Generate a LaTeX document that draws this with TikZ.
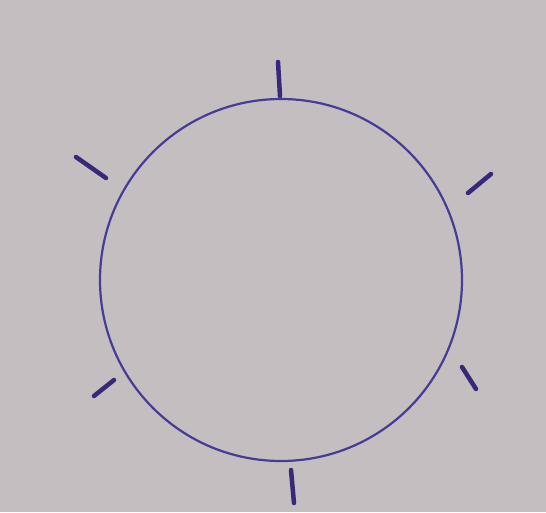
\documentclass[tikz,border=0pt]{standalone}
\definecolor{paper}{RGB}{196,190,193}
\definecolor{ink}{RGB}{70,60,150}
\definecolor{inkdark}{RGB}{55,40,120}
\begin{document}
\begin{tikzpicture}[x=1pt,y=-1pt,
  ring/.style={draw=ink,line width=2.2pt},
  tick/.style={draw=inkdark,line width=4.5pt,line cap=round}]
\useasboundingbox (0,0) rectangle (546,512);
\fill[paper] (0,0) rectangle (546,512);
\draw[ring] (281,280) circle[radius=181];
\draw[tick] (278,62) -- (280,96);
\draw[tick] (76,157) -- (106,178);
\draw[tick] (468,193) -- (491,174);
\draw[tick] (94,396) -- (114,380);
\draw[tick] (462,367) -- (476,389);
\draw[tick] (291,470) -- (294,503);
\end{tikzpicture}
\end{document}
